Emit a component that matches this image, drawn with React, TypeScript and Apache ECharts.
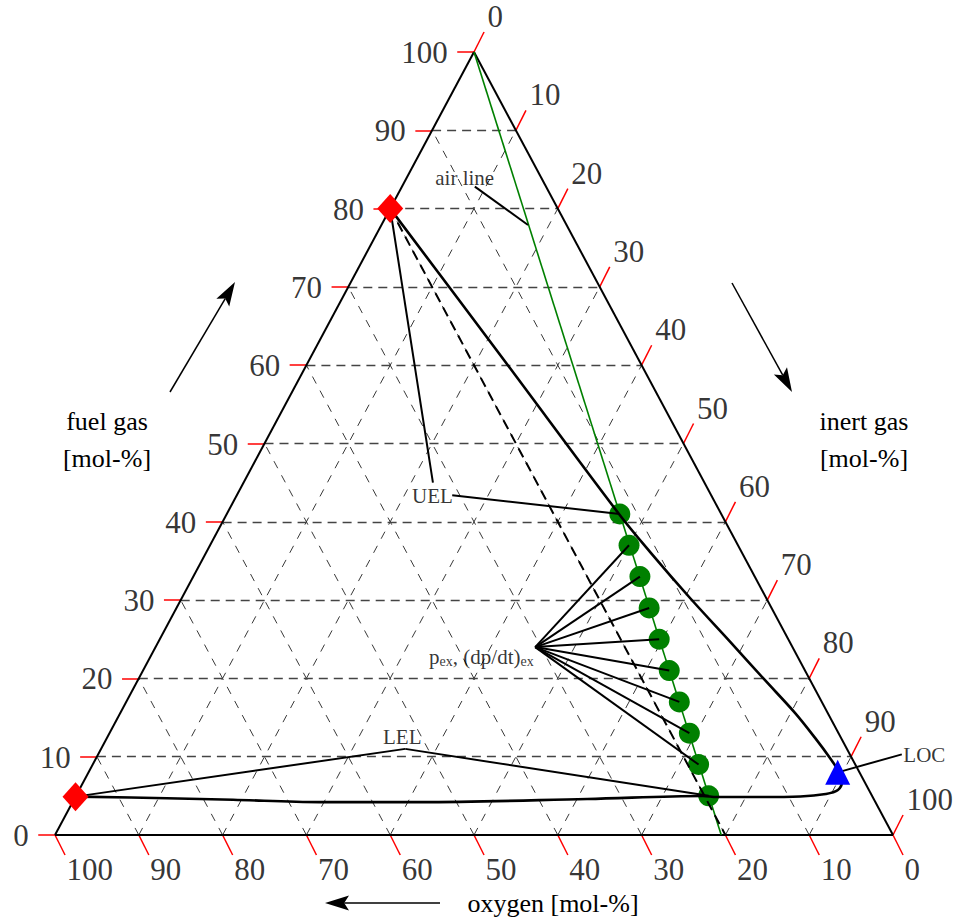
import React, { useEffect, useRef } from "react";
import * as echarts from "echarts";

// ---------- data (ternary compositions in mol-%) ----------
const tickValues = [0, 10, 20, 30, 40, 50, 60, 70, 80, 90, 100];
const gridValues = [10, 20, 30, 40, 50, 60, 70, 80, 90];

// measured explosion points on the air line
const dotFuel = [41, 37, 33, 29, 25, 21, 17, 13, 9, 5];
const dotOxygen = [12.1, 13.0, 13.7, 14.6, 15.4, 16.2, 17.0, 17.8, 18.7, 19.5];

// air line (fuel + air)
const airLineFuel = [100, 0];
const airLineOxygen = [0, 20.5];

// dashed line of constant oxygen from UEL
const dashedFuel = [80, 0];
const dashedOxygen = [20, 20];

// explosion region boundary
const boundaryFuel = [80, 60.7, 41, 36.1, 30.3, 24.7, 19.8, 15.6, 12.4, 9.8, 8.05, 6.8, 5.75, 5.24, 4.92, 4.85, 4.85, 4.98, 4.6, 4.2, 4.2, 4.5, 4.7, 4.9];
const boundaryOxygen = [20, 16.1, 12.2, 10.9, 9.1, 7.1, 5.4, 3.9, 3.1, 2.6, 2.42, 2.7, 3.7, 5.4, 8.6, 13.4, 18.6, 20.2, 34.2, 54.3, 66.3, 76.5, 84.3, 95.1];

// explosion limits (red diamonds)
const limitNames = ["UEL", "LEL"];
const limitFuel = [80, 4.9];
const limitOxygen = [20, 95.1];

// limiting oxygen concentration (blue triangle)
const locFuel = 8;
const locOxygen = 2.6;

// annotation anchors (fuel, oxygen)
const airLabelPos = [83.9, 9.1];
const airLeader = [[82.8, 8.5], [77.9, 4.6]];
const uelLabelPos = [43.2, 33.3];
const uelLeaderA = [45.0, 32.4];
const uelLeaderB = [43.4, 30.9];
const pexAnchor = [24.0, 30.7];
const lelLabelPos = [12.4, 52.3];
const lelAnchor = [11.0, 52.7];
const locLabelPos = [10.2, -8.9];
const locAnchor = [10.3, -6.2];

const FONT = "Liberation Serif";

// ternary (fuel, oxygen) -> cartesian (X, Y)
function tx(f: number, o: number): number[] {
  return [100 - o - f / 2, f];
}

function arrowShapes(tail: number[], tip: number[]) {
  const dx = tip[0] - tail[0];
  const dy = tip[1] - tail[1];
  const len = Math.sqrt(dx * dx + dy * dy);
  const ux = dx / len;
  const uy = dy / len;
  const px = -uy;
  const py = ux;
  const hl = 24;
  const hw = 7.5;
  const bx = tip[0] - ux * hl;
  const by = tip[1] - uy * hl;
  const nx = tip[0] - ux * hl * 0.8;
  const ny = tip[1] - uy * hl * 0.8;
  return [
    {
      type: "line",
      shape: { x1: tail[0], y1: tail[1], x2: nx, y2: ny },
      style: { stroke: "#000", lineWidth: 1.5 },
    },
    {
      type: "polygon",
      shape: {
        points: [
          [tip[0], tip[1]],
          [bx + px * hw, by + py * hw],
          [nx, ny],
          [bx - px * hw, by - py * hw],
        ],
      },
      style: { fill: "#000" },
    },
  ];
}

export default function App() {
  const ref = useRef<HTMLDivElement>(null);

  useEffect(() => {
    if (!ref.current) return;
    const chart = echarts.init(ref.current, null, { renderer: "svg" });

    const xMin = -55 / 8.38;
    const xMax = xMin + 954 / 8.38;
    const yMin = -85 / 7.83;
    const yMax = 100 + 52 / 7.83;

    const hGrid = gridValues.map((k) => ({ coords: [tx(k, 100 - k), tx(k, 0)] }));
    const dGrid = [
      ...gridValues.map((k) => ({ coords: [tx(0, 100 - k), tx(100 - k, 0)] })),
      ...gridValues.map((k) => ({ coords: [tx(0, k), tx(100 - k, k)] })),
    ];
    const edges = [
      { coords: [tx(0, 100), tx(100, 0)] },
      { coords: [tx(100, 0), tx(0, 0)] },
      { coords: [tx(0, 0), tx(0, 100)] },
    ];

    const leftTickEnd = (v: number) => {
      const p = tx(v, 100 - v);
      return [p[0] - 2, p[1]];
    };
    const rightTickEnd = (v: number) => {
      const p = tx(100 - v, 0);
      return [p[0] + 1.2, p[1] + 2.55];
    };
    const bottomTickEnd = (v: number) => {
      const p = tx(0, v);
      return [p[0] + 1.2, p[1] - 2.55];
    };
    const ticks = [
      ...tickValues.map((v) => ({ coords: [tx(v, 100 - v), leftTickEnd(v)] })),
      ...tickValues.map((v) => ({ coords: [tx(100 - v, 0), rightTickEnd(v)] })),
      ...tickValues.map((v) => ({ coords: [tx(0, v), bottomTickEnd(v)] })),
    ];

    const dots = dotFuel.map((f, i) => tx(f, dotOxygen[i]));
    const leaders = [
      { coords: [tx(airLeader[0][0], airLeader[0][1]), tx(airLeader[1][0], airLeader[1][1])] },
      { coords: [tx(uelLeaderA[0], uelLeaderA[1]), tx(limitFuel[0], limitOxygen[0])] },
      { coords: [tx(uelLeaderB[0], uelLeaderB[1]), dots[0]] },
      ...dots.slice(1, 9).map((d) => ({ coords: [tx(pexAnchor[0], pexAnchor[1]), d] })),
      { coords: [tx(lelAnchor[0], lelAnchor[1]), tx(limitFuel[1], limitOxygen[1])] },
      { coords: [tx(lelAnchor[0], lelAnchor[1]), dots[9]] },
      { coords: [tx(locAnchor[0], locAnchor[1]), tx(locFuel, locOxygen)] },
    ];

    const tickLabelBase = { fontFamily: FONT, fontSize: 31, color: "#000" };
    const labelBase = { fontFamily: FONT, fontSize: 21, color: "#000" };

    const textItem = (pos: number[], text: string) => ({
      value: tx(pos[0], pos[1]),
      name: text,
    });

    const titleStyle = (text: string) => ({
      text,
      fontFamily: FONT,
      fontSize: 26,
      fill: "#000",
      align: "center",
      verticalAlign: "middle",
      lineHeight: 37,
    });

    const option: any = {
      animation: false,
      backgroundColor: "#fff",
      textStyle: { fontFamily: FONT },
      grid: { left: 0, right: 0, top: 0, bottom: 0, containLabel: false },
      xAxis: { type: "value", min: xMin, max: xMax, show: false },
      yAxis: { type: "value", min: yMin, max: yMax, show: false },
      series: [
        {
          type: "lines",
          coordinateSystem: "cartesian2d",
          silent: true,
          data: dGrid,
          lineStyle: { color: "#222", width: 0.9, type: [8, 8], opacity: 1 },
          z: 1,
        },
        {
          type: "lines",
          coordinateSystem: "cartesian2d",
          silent: true,
          data: hGrid,
          lineStyle: { color: "#444", width: 1.3, type: [9, 6], opacity: 1 },
          z: 1,
        },
        {
          type: "lines",
          coordinateSystem: "cartesian2d",
          silent: true,
          data: ticks,
          lineStyle: { color: "#ff0000", width: 1.5, opacity: 1 },
          z: 2,
        },
        {
          type: "lines",
          coordinateSystem: "cartesian2d",
          silent: true,
          data: edges,
          lineStyle: { color: "#000", width: 2, opacity: 1 },
          z: 2,
        },
        {
          name: "air line",
          type: "line",
          silent: true,
          symbol: "none",
          data: airLineFuel.map((f, i) => tx(f, airLineOxygen[i])),
          lineStyle: { color: "#008000", width: 1.6 },
          z: 3,
        },
        {
          name: "explosion points",
          type: "scatter",
          silent: true,
          symbol: "circle",
          symbolSize: 21,
          data: dots,
          itemStyle: { color: "#008000", opacity: 1 },
          z: 4,
        },
        {
          name: "constant oxygen",
          type: "line",
          silent: true,
          symbol: "none",
          data: dashedFuel.map((f, i) => tx(f, dashedOxygen[i])),
          lineStyle: { color: "#000", width: 2, type: [10, 6] },
          z: 5,
        },
        {
          name: "boundary",
          type: "line",
          silent: true,
          symbol: "none",
          smooth: 0.35,
          data: boundaryFuel.map((f, i) => tx(f, boundaryOxygen[i])),
          lineStyle: { color: "#000", width: 2.6 },
          z: 5,
        },
        {
          type: "lines",
          coordinateSystem: "cartesian2d",
          silent: true,
          data: leaders,
          lineStyle: { color: "#000", width: 2, opacity: 1 },
          z: 6,
        },
        {
          name: "limits",
          type: "scatter",
          silent: true,
          symbol: "diamond",
          symbolSize: [26, 29],
          data: limitFuel.map((f, i) => ({ value: tx(f, limitOxygen[i]), name: limitNames[i] })),
          itemStyle: { color: "#ff0000", opacity: 1 },
          z: 7,
        },
        {
          name: "LOC",
          type: "scatter",
          silent: true,
          symbol: "triangle",
          symbolSize: [25, 25],
          data: [tx(locFuel, locOxygen)],
          itemStyle: { color: "#0000ff", opacity: 1 },
          z: 7,
        },
        // tick labels
        {
          type: "scatter",
          silent: true,
          symbolSize: 1,
          itemStyle: { color: "transparent" },
          data: tickValues.map((v) => ({ value: leftTickEnd(v), name: String(v) })),
          label: {
            show: true,
            formatter: "{b}",
            position: [-9, 1],
            align: "right",
            verticalAlign: "middle",
            ...tickLabelBase,
          },
          z: 8,
        },
        {
          type: "scatter",
          silent: true,
          symbolSize: 1,
          itemStyle: { color: "transparent" },
          data: tickValues.map((v) => ({ value: rightTickEnd(v), name: String(v) })),
          label: {
            show: true,
            formatter: "{b}",
            position: [4, -15],
            align: "left",
            verticalAlign: "middle",
            ...tickLabelBase,
          },
          z: 8,
        },
        {
          type: "scatter",
          silent: true,
          symbolSize: 1,
          itemStyle: { color: "transparent" },
          data: tickValues.map((v) => ({ value: bottomTickEnd(v), name: String(v) })),
          label: {
            show: true,
            formatter: "{b}",
            position: [2, 15],
            align: "left",
            verticalAlign: "middle",
            ...tickLabelBase,
          },
          z: 8,
        },
        // annotation labels
        {
          type: "scatter",
          silent: true,
          symbolSize: 1,
          itemStyle: { color: "transparent" },
          data: [
            textItem(airLabelPos, "air line"),
            textItem(uelLabelPos, "UEL"),
            textItem(lelLabelPos, "LEL"),
            textItem(locLabelPos, "LOC"),
          ],
          label: {
            show: true,
            formatter: "{b}",
            position: [0, 0],
            align: "center",
            verticalAlign: "middle",
            ...labelBase,
          },
          z: 8,
        },
        {
          type: "scatter",
          silent: true,
          symbolSize: 1,
          itemStyle: { color: "transparent" },
          data: [{ value: tx(pexAnchor[0], pexAnchor[1]), name: "pex" }],
          label: {
            show: true,
            formatter: "{m|p}{s|ex}{m|, (dp/dt)}{s|ex}",
            position: [-1, 10],
            align: "right",
            verticalAlign: "middle",
            rich: {
              m: { fontFamily: FONT, fontSize: 21, lineHeight: 24, color: "#000", verticalAlign: "middle" },
              s: { fontFamily: FONT, fontSize: 14, lineHeight: 12, color: "#000", verticalAlign: "bottom" },
            },
          },
          z: 8,
        },
      ],
      graphic: [
        { type: "text", x: 107, y: 440, style: titleStyle("fuel gas\n[mol-%]") },
        { type: "text", x: 864, y: 440, style: titleStyle("inert gas\n[mol-%]") },
        { type: "text", x: 553, y: 903, style: titleStyle("oxygen [mol-%]") },
        ...arrowShapes([170, 392], [235, 282]),
        ...arrowShapes([732, 283], [792, 392]),
        ...arrowShapes([440, 903], [325, 903]),
      ],
    };

    chart.setOption(option);
    return () => chart.dispose();
  }, []);

  return (
    <div
      ref={ref}
      style={{ position: "fixed", left: 0, top: 0, width: 954, height: 920, background: "#fff" }}
    />
  );
}
